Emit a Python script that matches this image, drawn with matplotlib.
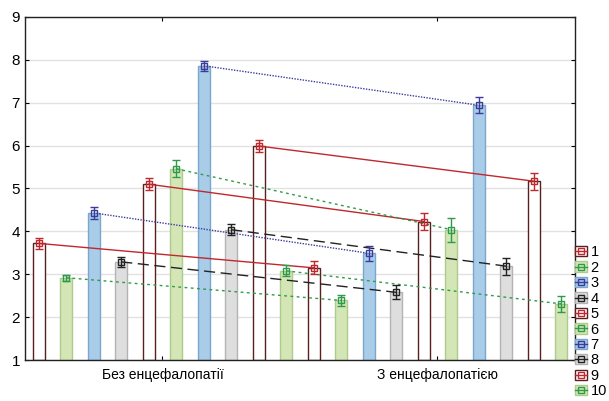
import numpy as np
import matplotlib.pyplot as plt
from matplotlib.patches import Patch
from matplotlib.lines import Line2D
from matplotlib.legend_handler import HandlerTuple

plt.rcParams['font.family'] = ['Liberation Sans', 'DejaVu Sans']

# Дані
categories = ['Без енцефалопатії', 'З енцефалопатією']
series = ['1', '2', '3', '4', '5', '6', '7', '8', '9', '10']
mean_without = [3.72, 2.92, 4.43, 3.29, 5.10, 5.46, 7.86, 4.04, 5.99, 3.08]
mean_with = [3.15, 2.39, 3.49, 2.58, 4.23, 4.04, 6.94, 3.19, 5.17, 2.31]
err_without = [0.12, 0.07, 0.13, 0.11, 0.14, 0.20, 0.12, 0.13, 0.13, 0.13]
err_with = [0.15, 0.13, 0.18, 0.16, 0.20, 0.28, 0.19, 0.20, 0.20, 0.18]

# Стилі (повторюються через кожні 4 серії)
bar_face = ['white', '#d4e6b6', '#a9cce9', '#dedede']
bar_edge = ['#5b1f1f', '#aecb8e', '#7ba7cd', '#b3b3b3']
line_col = ['#c0282d', '#2e9b4a', '#3b3b9c', '#222222']
line_dash = [(None, None), (2, 2.5), (1, 1), (8, 4)]

fig = plt.figure(figsize=(6.09, 4.01), dpi=100)
ax = fig.add_axes([0.041, 0.102, 0.903, 0.856])

n = len(series)
handles = []
for i in range(n):
    k = i % 4
    x1 = i + 0.5
    x2 = n + i + 0.5
    ax.bar([x1, x2], [mean_without[i] - 1, mean_with[i] - 1], bottom=1, width=0.44,
           color=bar_face[k], edgecolor=bar_edge[k], linewidth=1.0, zorder=2)
    ln, = ax.plot([x1, x2], [mean_without[i], mean_with[i]], color=line_col[k],
                  linewidth=1.0, zorder=3)
    if line_dash[k][0] is not None:
        ln.set_dashes(line_dash[k])
    ax.errorbar([x1, x2], [mean_without[i], mean_with[i]],
                yerr=[err_without[i], err_with[i]], fmt='s', mfc='none',
                mec=line_col[k], ecolor=line_col[k], ms=5, mew=1.0,
                elinewidth=1.0, capsize=3, capthick=1.0, zorder=4)
    handles.append((Patch(facecolor=bar_face[k], edgecolor=bar_edge[k], linewidth=1.0),
                    Line2D([], [], color=line_col[k], marker='s', mfc='none', ms=4, lw=1)))

ax.set_xlim(0, 2 * n)
ax.set_ylim(1, 9)
ax.set_yticks(range(1, 10))
ax.set_xticks([n / 2, n * 1.5])
ax.set_xticklabels(categories, fontsize=10)
ax.tick_params(axis='both', direction='in', top=True, right=True, length=3)
ax.tick_params(axis='y', labelsize=11)
ax.tick_params(axis='x', pad=6)
ax.grid(axis='y', color='#e2e2e2', linewidth=1, zorder=0)
ax.set_axisbelow(True)
for s in ax.spines.values():
    s.set_color('#222222')
    s.set_linewidth(1.0)

ax.legend(handles, series, handler_map={tuple: HandlerTuple(ndivide=1)},
          loc='lower left', bbox_to_anchor=(0.995, -0.12), frameon=False,
          fontsize=10.5, handlelength=0.8, handleheight=0.7, handletextpad=0.25,
          labelspacing=0.1, borderaxespad=0.1, borderpad=0.1)

plt.savefig('out.png', dpi=100)
